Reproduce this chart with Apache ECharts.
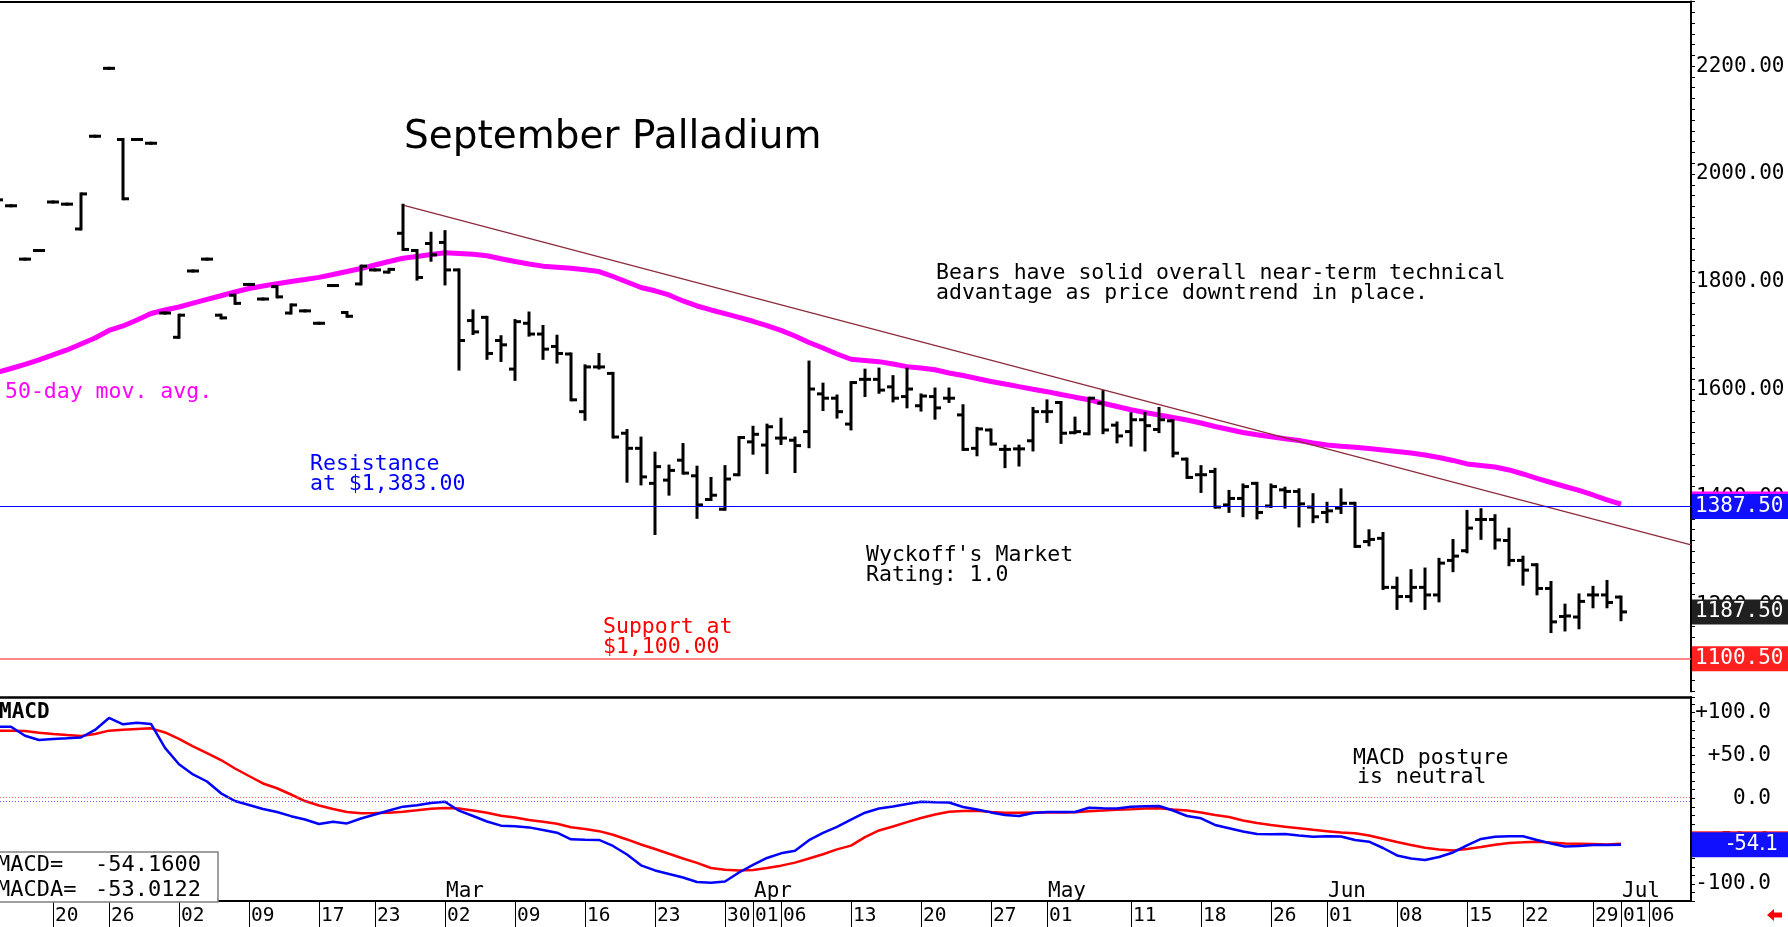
<!DOCTYPE html>
<html><head><meta charset="utf-8">
<script src="https://cdn.jsdelivr.net/npm/echarts@6.0.0/dist/echarts.min.js"></script>
<style>html,body{margin:0;padding:0;background:#fff}#c{width:1788px;height:927px}</style>
</head><body><div id="c"></div>
<script>
// ---------- DATA ----------
const sessionCount = 122;
const categories = Array.from({length: sessionCount}, (_, i) => 's' + i);

const dayTickIdx  = [4,8,13,18,23,27,32,37,42,47,52,54,56,61,66,71,75,81,86,91,95,100,105,109,114,116,118];
const dayTickText = ['20','26','02','09','17','23','02','09','16','23','30','01','06','13','20','27','01','11','18','26','01','08','15','22','29','01','06'];
const monthIdx  = [32,54,75,95,116];
const monthText = ['Mar','Apr','May','Jun','Jul'];

const opens = [
1952,1941,1842,1858,1948,1944,1898,2070,2196,2064,
2064,2057,1742,1697,1820,1842,1738,1775,1795,1768,
1791,1742,1746,1723,1793,1743,1796,1822,1818,1890,
1858,1871,1873,1822,1728,1734,1691,1638,1723,1703,
1680,1666,1559,1642,1630,1519,1491,1426,1432,1469,
1440,1396,1378,1442,1503,1497,1510,1506,1522,1592,
1584,1536,1619,1619,1605,1587,1570,1587,1584,1553,
1491,1525,1489,1490,1505,1559,1576,1520,1518,1575,
1534,1522,1544,1526,1542,1471,1442,1448,1386,1398,
1426,1384,1414,1411,1382,1372,1380,1389,1318,1324,
1233,1216,1233,1219,1283,1301,1359,1359,1320,1283,
1275,1231,1179,1178,1219,1219,1215];
const highs = [
1952,1941,1842,1858,1948,1944,1963,2070,2196,2064,
2064,2057,1742,1738,1820,1842,1738,1775,1795,1768,
1791,1757,1746,1723,1793,1743,1829,1822,1823,1942,
1858,1890,1893,1822,1746,1734,1698,1728,1742,1717,
1699,1666,1644,1665,1630,1524,1510,1482,1458,1498,
1456,1435,1457,1511,1530,1534,1545,1510,1651,1610,
1588,1613,1636,1638,1624,1638,1590,1601,1601,1570,
1528,1525,1495,1495,1565,1579,1576,1547,1584,1596,
1538,1555,1556,1565,1542,1471,1457,1452,1411,1423,
1426,1423,1417,1414,1405,1389,1414,1389,1338,1333,
1250,1264,1267,1285,1320,1374,1377,1366,1341,1289,
1275,1242,1200,1219,1233,1244,1215];
const lows = [
1952,1941,1842,1858,1948,1944,1898,2070,2196,1954,
2064,2057,1742,1697,1820,1842,1733,1760,1795,1768,
1772,1742,1746,1723,1793,1736,1796,1822,1818,1860,
1805,1840,1796,1638,1704,1658,1654,1619,1701,1658,
1651,1581,1545,1640,1512,1430,1425,1333,1406,1445,
1363,1396,1378,1442,1482,1446,1500,1448,1494,1563,
1549,1527,1589,1595,1579,1568,1562,1547,1578,1489,
1479,1499,1457,1460,1488,1541,1502,1520,1518,1520,
1503,1497,1488,1522,1477,1437,1411,1382,1374,1366,
1362,1383,1382,1347,1355,1355,1372,1309,1312,1231,
1194,1208,1194,1208,1264,1299,1324,1306,1275,1239,
1221,1151,1154,1158,1197,1197,1173];
const closes = [
1952,1941,1842,1858,1948,1944,1963,2070,2196,1954,
2064,2057,1742,1738,1820,1842,1733,1760,1795,1768,
1772,1757,1746,1723,1793,1736,1829,1822,1823,1860,
1808,1850,1822,1691,1707,1667,1683,1726,1703,1675,
1667,1581,1642,1642,1512,1491,1438,1457,1450,1445,
1386,1404,1434,1511,1517,1531,1510,1496,1601,1584,
1559,1613,1619,1599,1584,1601,1588,1566,1584,1489,
1527,1499,1489,1490,1559,1559,1519,1522,1584,1525,
1514,1544,1533,1544,1482,1437,1442,1382,1398,1420,
1372,1420,1411,1388,1364,1375,1389,1309,1322,1233,
1216,1233,1219,1278,1291,1343,1359,1321,1283,1265,
1231,1169,1180,1207,1219,1205,1187.5];

const ma50 = [
1631.5,1639.1,1646.9,1654.9,1664.2,1673.5,1684.6,1695.7,1709.6,1718,
1729.1,1741.2,1747.7,1753.2,1760.3,1767.2,1774,1781.1,1787.6,1792.2,
1796.5,1800.6,1804.3,1808.2,1813.5,1819.1,1824.5,1831.2,1837.7,1843.6,
1846.9,1850.7,1854,1852.5,1851,1848.4,1842.7,1837.7,1833,1829,
1827.1,1825.2,1822.3,1818.9,1809.8,1799.6,1789.4,1783.3,1775.5,1764.4,
1755.1,1747.7,1741,1734,1726.7,1718.7,1709.8,1699.4,1687.4,1677.2,
1666,1656.2,1654,1651.8,1647.5,1642.5,1640.1,1636.7,1630.8,1626,
1620.6,1615,1610.4,1605.4,1600.7,1596.1,1590.9,1585.9,1581.1,1574.6,
1568.6,1562.5,1557.5,1552.9,1548.2,1543.6,1538,1531.5,1526,1520.4,
1516.1,1512.6,1508.9,1505.4,1500.9,1497.2,1494.8,1493.1,1490.7,1487.9,
1485,1482.4,1478.6,1474,1468.5,1462,1459.2,1456.4,1450.9,1443.4,
1435.4,1427.6,1420.2,1412.8,1404.4,1395.2,1387.5];

const macd = [
83.6,83.6,73.1,68.1,69.3,70.1,71,79.8,93.8,86.4,
88.3,86.8,58.8,39.7,27.8,19.6,5.8,-3.2,-7.8,-12.5,
-16,-20.9,-24.8,-30,-27.3,-29.4,-23.6,-18.9,-14.3,-9.8,
-8.2,-5.5,-4,-14.5,-20.7,-27.1,-32,-32.8,-34,-37,
-40.2,-47.9,-48.4,-48.7,-55.7,-65.7,-78.3,-84.3,-88.4,-92.5,
-97.8,-98.6,-97.2,-86.7,-77.9,-69.7,-64.3,-61.2,-48.9,-40.5,
-33.5,-25,-16.9,-12,-9.5,-6.7,-4.1,-4.6,-4.9,-10.2,
-13.1,-16.5,-19.5,-20.8,-17.2,-16,-16,-16,-11,-11.7,
-11.9,-9.8,-9.3,-9,-14.3,-20.7,-23.4,-31.2,-35,-38.8,
-41.7,-41.9,-41.7,-43.5,-44.9,-44.4,-44.6,-48.7,-50.7,-58.1,
-66.8,-70.3,-72.1,-68.6,-63.3,-55.1,-47.5,-45,-44.4,-44.4,
-48.7,-52.8,-56.3,-55.7,-54.6,-54.6,-54.16];
const macdSignal = [
79,79,78.6,76.5,75.1,73.9,72.8,75.1,79,79.9,
80.8,81.7,76.9,69.5,60.7,52.7,44.7,34.8,26,17.3,
11.7,4.4,-3.2,-8.4,-12.5,-16,-17.5,-17.2,-16.8,-15.8,
-14.1,-12.3,-11.3,-11.9,-14.3,-16.9,-20.4,-22.4,-25.3,-27.5,
-29.8,-33.9,-35.9,-38.4,-42.6,-48.1,-54,-59.2,-64.8,-70.3,
-75.4,-81.4,-83.5,-84.5,-83.8,-81.4,-78.7,-75.2,-70.3,-65.4,
-59.7,-55.3,-45.4,-37.6,-32.9,-27.9,-23,-18.9,-15.7,-14.8,
-14.6,-16,-16.8,-16.8,-16.7,-16.6,-16.5,-16.2,-15.2,-14.4,
-13.3,-12.7,-12,-11.7,-13.1,-14.3,-16.6,-19.5,-21.8,-25.9,
-28.9,-31.2,-33.2,-34.9,-36.8,-38.4,-40,-40.9,-43.5,-47.3,
-51,-54.6,-57.8,-59.8,-61,-59.2,-56.9,-54.3,-52.2,-51.5,
-50.7,-51.8,-52.7,-53,-53.4,-54,-53.0122];

const trendLine = [[29, 1942], [121, 1311.7]];
const resistanceLevel = 1383;
const supportLevel = 1100.5;
const macdZeroRed = 1.2;
const macdZeroBlue = -3.2;

// ---------- CHART ----------
const MONO = '"DejaVu Sans Mono", "Liberation Mono", monospace';
const NARROW = '"Liberation Sans Narrow", "DejaVu Sans Condensed", "DejaVu Sans Mono", sans-serif';
const dayMap = {}; dayTickIdx.forEach((k, j) => { dayMap[k] = dayTickText[j]; });
const monthMap = {}; monthIdx.forEach((k, j) => { monthMap[k] = monthText[j]; });
const ohlc = opens.map((o, i) => [i, o, highs[i], lows[i], closes[i]]);
const lastMa = ma50[ma50.length - 1];
const lastClose = closes[closes.length - 1];
const lastMacd = macd[macd.length - 1];
const lastSignal = macdSignal[macdSignal.length - 1];
const trunc1 = v => (Math.trunc(v * 10) / 10).toFixed(1);

function renderBar(params, api) {
  const i = api.value(0);
  const pO = api.coord([i, api.value(1)]);
  const pH = api.coord([i, api.value(2)]);
  const pL = api.coord([i, api.value(3)]);
  const pC = api.coord([i, api.value(4)]);
  const x = pH[0], t = 1.5, w = 6;
  const style = {fill: '#000'};
  return {type: 'group', children: [
    {type: 'rect', shape: {x: x - t, y: pH[1] - t, width: 2 * t, height: pL[1] - pH[1] + 2 * t}, style},
    {type: 'rect', shape: {x: x - w, y: pO[1] - t, width: w, height: 2 * t}, style},
    {type: 'rect', shape: {x: x, y: pC[1] - t, width: w, height: 2 * t}, style}
  ]};
}

function boxLabel(bg, text, extra) {
  return Object.assign({show: true, position: 'end', distance: 1, formatter: text, color: '#fff',
    backgroundColor: bg, padding: [3, 4, 2, 3], width: 89, lineHeight: 20,
    fontFamily: MONO, fontSize: 21, align: 'left', verticalAlign: 'middle'}, extra || {});
}
const hidden = {color: 'rgba(0,0,0,0)', width: 1};
const macdBoxExtra = {fontFamily: NARROW, fontSize: 22, padding: [3, 4, 2, 35], width: 57, overflow: 'none'};

const chart = echarts.init(document.getElementById('c'), null, {renderer: 'canvas'});
chart.setOption({
  animation: false,
  backgroundColor: '#fff',
  grid: [
    {left: -3, right: 97, top: 1.5, bottom: 235.6, containLabel: false, outerBoundsMode: 'none'},
    {left: -3, right: 97, top: 697, bottom: 26, containLabel: false, outerBoundsMode: 'none'}
  ],
  xAxis: [
    {gridIndex: 0, type: 'category', data: categories, boundaryGap: false, position: 'top',
     axisLine: {onZero: false, lineStyle: {color: '#000', width: 2}}, axisTick: {show: false}, axisLabel: {show: false}, splitLine: {show: false}},
    {gridIndex: 1, type: 'category', data: categories, boundaryGap: false, position: 'bottom',
     axisLine: {onZero: false, lineStyle: {color: '#000', width: 2}},
     axisTick: {show: true, length: 26, interval: (idx) => dayMap[idx] !== undefined, lineStyle: {color: '#000', width: 1}},
     axisLabel: {show: true, interval: (idx) => dayMap[idx] !== undefined, formatter: (v, idx) => dayMap[idx] || '',
       align: 'left', margin: 5, padding: [0, 0, 0, 2], fontFamily: MONO, fontSize: 19.5, color: '#000'},
     splitLine: {show: false}},
    {gridIndex: 1, type: 'category', data: categories, boundaryGap: false, position: 'bottom',
     axisLine: {onZero: false, show: false}, axisTick: {show: false},
     axisLabel: {show: true, inside: true, interval: (idx) => monthMap[idx] !== undefined, formatter: (v, idx) => monthMap[idx] || '',
       align: 'left', verticalAlign: 'bottom', margin: -1, padding: [0, 0, 0, 1], fontFamily: MONO, fontSize: 21, color: '#000'},
     splitLine: {show: false}},
    {gridIndex: 1, type: 'category', data: categories, boundaryGap: false, position: 'top',
     axisLine: {onZero: false, lineStyle: {color: '#000', width: 2.5}}, axisTick: {show: false}, axisLabel: {show: false}, splitLine: {show: false}}
  ],
  yAxis: [
    {gridIndex: 0, type: 'value', position: 'right', min: 1040, max: 2320, interval: 20,
     axisLine: {show: true, onZero: false, lineStyle: {color: '#000', width: 2}},
     axisTick: {show: true, length: 4, lineStyle: {color: '#000', width: 1}},
     axisLabel: {formatter: v => (v % 200 === 0 ? v.toFixed(2) : ''), margin: 5, fontFamily: MONO, fontSize: 21, color: '#000'},
     splitLine: {show: false}},
    {gridIndex: 1, type: 'value', position: 'right', min: -120, max: 118.3, interval: 10,
     axisLine: {show: true, onZero: false, lineStyle: {color: '#000', width: 2}},
     axisTick: {show: true, length: 4, lineStyle: {color: '#000', width: 1}},
     axisLabel: {formatter: v => (v % 50 === 0 ? (v > 0 ? '+' : '') + v.toFixed(1) : ''), align: 'right', margin: 80,
       fontFamily: MONO, fontSize: 21, color: '#000'},
     splitLine: {show: false}}
  ],
  series: [
    {name: '50-day', type: 'line', xAxisIndex: 0, yAxisIndex: 0, data: ma50, symbol: 'none', silent: true,
     lineStyle: {color: '#ff00ff', width: 5}, z: 2,
     markLine: {silent: true, symbol: ['none', 'none'], animation: false, data: [
       {yAxis: resistanceLevel, lineStyle: {color: '#0000ff', width: 1.2, type: 'solid'}, label: {show: false}},
       {yAxis: supportLevel, lineStyle: {color: '#ff6060', width: 1.5, type: 'solid'}, label: boxLabel('#ff2020', supportLevel.toFixed(2))},
       {yAxis: lastMa, lineStyle: hidden, label: boxLabel('#ff00ff', lastMa.toFixed(2))},
       {yAxis: resistanceLevel, lineStyle: hidden, label: boxLabel('#1010ff', lastMa.toFixed(2))},
       {yAxis: lastClose, lineStyle: hidden, label: boxLabel('#202020', lastClose.toFixed(2))}
     ]}},
    {name: 'trend', type: 'line', xAxisIndex: 0, yAxisIndex: 0, data: trendLine, symbol: 'none', silent: true,
     lineStyle: {color: '#8b2b3b', width: 1.3}, z: 3},
    {name: 'bars', type: 'custom', xAxisIndex: 0, yAxisIndex: 0, data: ohlc, renderItem: renderBar,
     encode: {x: 0, y: [1, 2, 3, 4]}, silent: true, z: 4},
    {name: 'MACDA', type: 'line', xAxisIndex: 1, yAxisIndex: 1, data: macdSignal, symbol: 'none', silent: true,
     lineStyle: {color: '#ff0000', width: 2.5}, z: 2,
     markLine: {silent: true, symbol: ['none', 'none'], animation: false, data: [
       {yAxis: macdZeroRed, lineStyle: {color: '#ff6060', width: 1, type: [1, 2]}, label: {show: false}},
       {yAxis: lastSignal, lineStyle: hidden, label: boxLabel('#ff2020', trunc1(lastSignal), macdBoxExtra)}
     ]}},
    {name: 'MACD', type: 'line', xAxisIndex: 1, yAxisIndex: 1, data: macd, symbol: 'none', silent: true,
     lineStyle: {color: '#0000ff', width: 2.5}, z: 3,
     markLine: {silent: true, symbol: ['none', 'none'], animation: false, data: [
       {yAxis: macdZeroBlue, lineStyle: {color: '#6060ff', width: 1, type: [1, 2]}, label: {show: false}},
       {yAxis: lastMacd, lineStyle: hidden, label: boxLabel('#1010ff', trunc1(lastMacd), macdBoxExtra)}
     ]}}
  ],
  graphic: [
    {type: 'text', x: 404, y: 118, silent: true, style: {text: 'September Palladium', fill: '#000', font: '39px "DejaVu Sans"', verticalAlign: 'top'}},
    {type: 'text', x: 936, y: 263, silent: true, style: {text: 'Bears have solid overall near-term technical\nadvantage as price downtrend in place.', fill: '#000', font: '21.5px ' + MONO, lineHeight: 20.5, verticalAlign: 'top'}},
    {type: 'text', x: 310, y: 454, silent: true, style: {text: 'Resistance\nat $1,383.00', fill: '#0000ff', font: '21.5px ' + MONO, lineHeight: 20, verticalAlign: 'top'}},
    {type: 'text', x: 5, y: 381, silent: true, style: {text: '50-day mov. avg.', fill: '#ff00ff', font: '21.5px ' + MONO, verticalAlign: 'top'}},
    {type: 'text', x: 866, y: 545, silent: true, style: {text: "Wyckoff's Market\nRating: 1.0", fill: '#000', font: '21.5px ' + MONO, lineHeight: 20, verticalAlign: 'top'}},
    {type: 'text', x: 603, y: 617, silent: true, style: {text: 'Support at\n$1,100.00', fill: '#ff0000', font: '21.5px ' + MONO, lineHeight: 20, verticalAlign: 'top'}},
    {type: 'text', x: 1353, y: 747, silent: true, style: {text: 'MACD posture', fill: '#000', font: '21.5px ' + MONO, verticalAlign: 'top'}},
    {type: 'text', x: 1357, y: 766, silent: true, style: {text: 'is neutral', fill: '#000', font: '21.5px ' + MONO, verticalAlign: 'top'}},
    {type: 'text', x: -1, y: 702, silent: true, style: {text: 'MACD', fill: '#000', font: 'bold 21px ' + MONO, verticalAlign: 'top'}},
    {type: 'rect', silent: true, shape: {x: -2, y: 852, width: 220, height: 50}, style: {fill: '#fff', stroke: '#808080', lineWidth: 1.5}, z: 10},
    {type: 'text', x: -3, y: 853, silent: true, z: 11, style: {text: 'MACD=\nMACDA=', fill: '#000', font: '22px ' + MONO, lineHeight: 25, verticalAlign: 'top'}},
    {type: 'text', x: 95, y: 853, silent: true, z: 11, style: {text: lastMacd.toFixed(4) + '\n' + lastSignal.toFixed(4), fill: '#000', font: '22px ' + MONO, lineHeight: 25, verticalAlign: 'top'}},
    {type: 'polygon', silent: true, shape: {points: [[1767, 915], [1774, 909], [1774, 912.5], [1782, 912.5], [1782, 917.5], [1774, 917.5], [1774, 921]]}, style: {fill: '#ff0000'}}
  ]
});
</script>
</body></html>
